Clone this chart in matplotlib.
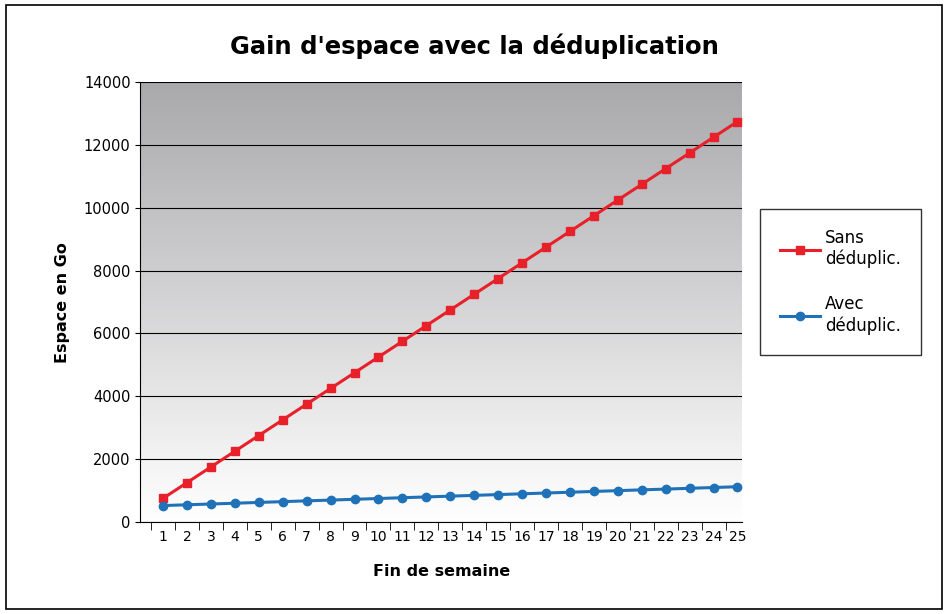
import matplotlib
matplotlib.use("Agg")
import matplotlib.pyplot as plt
import numpy as np
from matplotlib.patches import Rectangle

weeks = list(range(1, 26))
sans = [750, 1250, 1750, 2250, 2750, 3250, 3750, 4250, 4750, 5250, 5750, 6250, 6750,
        7250, 7750, 8250, 8750, 9250, 9750, 10250, 10750, 11250, 11750, 12250, 12750]
avec = [520, 545, 570, 595, 620, 645, 670, 695, 720, 745, 770, 795, 820,
        845, 870, 895, 920, 945, 970, 995, 1020, 1045, 1070, 1095, 1120]

plt.rcParams['font.family'] = ['DejaVu Sans']
fig = plt.figure(figsize=(9.48, 6.14), dpi=100)
fig.patches.append(Rectangle((0.006, 0.008), 0.988, 0.984, transform=fig.transFigure,
                             fill=False, edgecolor='black', linewidth=1.2))
ax = fig.add_axes([0.148, 0.150, 0.635, 0.716])
grad = np.linspace(0, 1, 256).reshape(-1, 1)
ax.imshow(grad, extent=[0, 1, 0, 1], transform=ax.transAxes, aspect='auto',
          cmap=matplotlib.colors.LinearSegmentedColormap.from_list('g', ['#ffffff', '#a9a9ac']),
          origin='lower', zorder=0)
ax.set_ylim(0, 14000)
ax.set_xlim(0.05, 25.2)
ax.set_yticks(range(0, 14001, 2000))
ax.grid(axis='y', color='black', linewidth=0.8, zorder=1)
ax.plot(weeks, sans, color='#e8202a', marker='s', markersize=6, linewidth=2.2, label='Sans\ndéduplic.', zorder=3)
ax.plot(weeks, avec, color='#1f72b8', marker='o', markersize=6, linewidth=2.2, label='Avec\ndéduplic.', zorder=3)
ax.set_xticks(weeks)
ax.set_xticks([w + 0.5 for w in range(0, 25)], minor=True)
ax.tick_params(axis='x', which='major', length=0, labelsize=10, pad=6)
ax.tick_params(axis='x', which='minor', length=6)
ax.tick_params(axis='y', labelsize=10.5)
for s in ['top', 'right']:
    ax.spines[s].set_visible(False)
ax.set_xlabel('Fin de semaine', fontsize=11.5, fontweight='bold', labelpad=14)
ax.set_ylabel('Espace en Go', fontsize=11.5, fontweight='bold', labelpad=10)
fig.text(0.5, 0.925, "Gain d'espace avec la déduplication", ha='center', va='center',
         fontsize=17.5, fontweight='bold')
leg = fig.legend(loc='center left', bbox_to_anchor=(0.802, 0.541), fontsize=12,
                 frameon=True, fancybox=False, edgecolor='black', handlelength=2.4,
                 labelspacing=1.6, borderpad=1.2, handletextpad=0.3, borderaxespad=0)
leg.get_frame().set_linewidth(1.0)
fig.savefig('out.png', dpi=100)
